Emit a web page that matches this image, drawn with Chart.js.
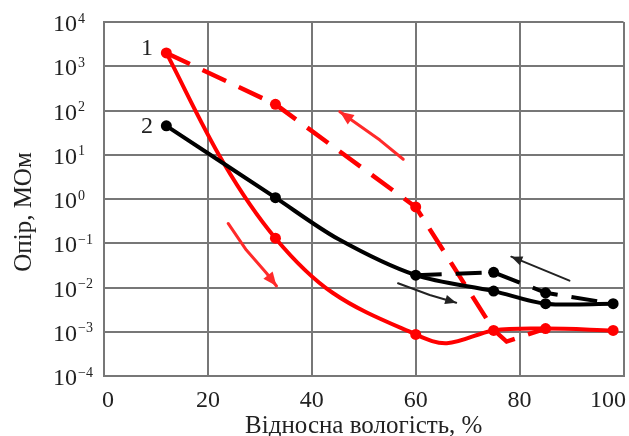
<!DOCTYPE html>
<html>
<head>
<meta charset="utf-8">
<script src="https://cdn.jsdelivr.net/npm/chart.js@4"></script>
<style>
  body { margin: 0; background: #fff; }
  canvas { display: block; }
</style>
</head>
<body>
<canvas id="chart" width="629" height="436"></canvas>
<script>
// curve 1 (red), wetting branch - solid
const redWetX = [12, 23, 33, 44, 60, 66, 75, 85, 98];
const redWetY = [2000, 6.6, 0.13, 0.0076, 0.00087, 0.00055, 0.00107, 0.00118, 0.00107];
const redWetMarkX = [12, 33, 60, 75, 85, 98];
const redWetMarkY = [2000, 0.13, 0.00087, 0.00107, 0.00118, 0.00107];
// curve 1 (red), drying branch - dashed
const redDryX = [12, 33, 60, 75, 77.5, 85];
const redDryY = [2000, 138, 0.66, 0.0011, 0.0006, 0.00118];
const redDryMarkX = [33, 60];
const redDryMarkY = [138, 0.66];

// curve 2 (black), wetting branch - solid
const blackWetX = [12, 33, 45, 60, 75, 85, 98];
const blackWetY = [45, 1.07, 0.126, 0.019, 0.0083, 0.0043, 0.0043];
const blackWetMarkX = [12, 33, 60, 75, 85, 98];
const blackWetMarkY = [45, 1.07, 0.019, 0.0083, 0.0043, 0.0043];
// curve 2 (black), drying branch - dashed
const blackDryX = [60, 75, 85, 98];
const blackDryY = [0.019, 0.022, 0.0076, 0.0043];
const blackDryMarkX = [75, 85];
const blackDryMarkY = [0.022, 0.0076];

// direction arrows (data coordinates)
const arrowRedDownX = [23.9, 27.4, 31.3, 33.2];
const arrowRedDownY = [0.28, 0.07, 0.021, 0.0108];
const arrowRedUpX = [57.6, 53.1, 45.4];
const arrowRedUpY = [7.9, 21.5, 94];
const arrowBlackDownX = [56.6, 62.7, 67.8];
const arrowBlackDownY = [0.01245, 0.00676, 0.00454];
const arrowBlackUpX = [89.6, 78.4];
const arrowBlackUpY = [0.01426, 0.0497];

// curve numbers
const curveLabels = ['1', '2'];
const curveLabelX = [8.3, 8.3];
const curveLabelY = [2450, 42];

const xTicks = [0, 20, 40, 60, 80, 100];
const yExponents = [-4, -3, -2, -1, 0, 1, 2, 3, 4];
const xTitle = 'Відносна вологість, %';
const yTitle = 'Опір, МОм';

const serif = '"Liberation Serif", "DejaVu Serif", serif';
const gridColor = '#777';
const textColor = '#222';

function pts(xs, ys) {
  return xs.map((x, i) => ({ x: x, y: ys[i] }));
}

function drawArrow(chart, xs, ys, color, width, head) {
  const sx = chart.scales.x, sy = chart.scales.y;
  const p = xs.map((x, i) => [sx.getPixelForValue(x), sy.getPixelForValue(ys[i])]);
  const c = chart.ctx;
  c.save();
  c.strokeStyle = color;
  c.fillStyle = color;
  c.lineWidth = width;
  c.lineCap = 'round';
  c.lineJoin = 'round';
  c.beginPath();
  c.moveTo(p[0][0], p[0][1]);
  for (let i = 1; i < p.length; i++) c.lineTo(p[i][0], p[i][1]);
  c.stroke();
  const a = p[p.length - 2], b = p[p.length - 1];
  const ang = Math.atan2(b[1] - a[1], b[0] - a[0]);
  c.beginPath();
  c.moveTo(b[0], b[1]);
  c.lineTo(b[0] - head * Math.cos(ang - 0.4), b[1] - head * Math.sin(ang - 0.4));
  c.lineTo(b[0] - head * Math.cos(ang + 0.4), b[1] - head * Math.sin(ang + 0.4));
  c.closePath();
  c.fill();
  c.restore();
}

const textPlugin = {
  id: 'texts',
  afterDraw(chart) {
    const c = chart.ctx;
    const sx = chart.scales.x, sy = chart.scales.y;
    const area = chart.chartArea;
    c.save();
    c.fillStyle = textColor;

    // y tick labels 10^n
    yExponents.forEach(e => {
      const py = sy.getPixelForValue(Math.pow(10, e));
      c.font = '24px ' + serif;
      c.textAlign = 'right';
      c.textBaseline = 'alphabetic';
      c.fillText('10', 77, py + 9);
      c.font = '14px ' + serif;
      c.textAlign = 'left';
      c.fillText(String(e).replace('-', '\u2212'), 78, py + 0.5);
    });

    // x tick labels
    c.font = '24px ' + serif;
    c.textBaseline = 'alphabetic';
    c.textAlign = 'center';
    xTicks.forEach(v => {
      const w = c.measureText(String(v)).width;
      let px = sx.getPixelForValue(v);
      px = Math.min(px, chart.width - 3 - w / 2);
      px = Math.max(px, area.left + w / 2 - 2);
      c.fillText(String(v), px, 407);
    });

    // axis titles
    c.font = '25px ' + serif;
    c.fillText(xTitle, (area.left + area.right) / 2, 433);
    c.save();
    c.translate(31, 212);
    c.rotate(-Math.PI / 2);
    c.fillText(yTitle, 0, 0);
    c.restore();

    // curve numbers
    c.font = '24px ' + serif;
    c.textBaseline = 'middle';
    curveLabels.forEach((t, i) => {
      c.fillText(t, sx.getPixelForValue(curveLabelX[i]), sy.getPixelForValue(curveLabelY[i]));
    });
    c.restore();

    drawArrow(chart, arrowRedDownX, arrowRedDownY, '#ff2a2a', 3, 15);
    drawArrow(chart, arrowRedUpX, arrowRedUpY, '#ff2a2a', 3, 15);
    drawArrow(chart, arrowBlackDownX, arrowBlackDownY, '#222', 2, 12);
    drawArrow(chart, arrowBlackUpX, arrowBlackUpY, '#222', 2, 12);
  }
};

new Chart(document.getElementById('chart'), {
  type: 'line',
  data: {
    datasets: [
      { data: pts(blackWetMarkX, blackWetMarkY), showLine: false, pointRadius: 5.5, pointBackgroundColor: '#000', pointBorderWidth: 0 },
      { data: pts(blackDryMarkX, blackDryMarkY), showLine: false, pointRadius: 5.5, pointBackgroundColor: '#000', pointBorderWidth: 0 },
      { data: pts(blackWetX, blackWetY), borderColor: '#000', borderWidth: 4, pointRadius: 0, tension: 0.3 },
      { data: pts(blackDryX, blackDryY), borderColor: '#000', borderWidth: 4, pointRadius: 0, tension: 0, borderDash: [26, 14] },
      { data: pts(redWetMarkX, redWetMarkY), showLine: false, pointRadius: 5.5, pointBackgroundColor: '#ff0000', pointBorderWidth: 0 },
      { data: pts(redDryMarkX, redDryMarkY), showLine: false, pointRadius: 5.5, pointBackgroundColor: '#ff0000', pointBorderWidth: 0 },
      { data: pts(redWetX, redWetY), borderColor: '#ff0000', borderWidth: 4, pointRadius: 0, tension: 0.35 },
      { data: pts(redDryX, redDryY), borderColor: '#ff0000', borderWidth: 4.5, pointRadius: 0, tension: 0, borderDash: [26, 14] }
    ]
  },
  options: {
    responsive: false,
    animation: false,
    devicePixelRatio: 1,
    layout: { padding: { top: 22, right: 5, left: 0, bottom: 0 } },
    plugins: { legend: { display: false }, tooltip: { enabled: false } },
    scales: {
      x: {
        type: 'linear', min: 0, max: 100,
        ticks: { stepSize: 20, display: false },
        grid: { color: gridColor, lineWidth: 2, drawTicks: false },
        border: { color: gridColor, width: 2 },
        afterFit(scale) { scale.height = 60; }
      },
      y: {
        type: 'logarithmic', min: 1e-4, max: 1e4,
        ticks: { display: false },
        afterBuildTicks(scale) { scale.ticks = yExponents.map(e => ({ value: Math.pow(10, e) })); },
        grid: { color: gridColor, lineWidth: 2, drawTicks: false },
        border: { color: gridColor, width: 2 },
        afterFit(scale) { scale.width = 104; }
      }
    }
  },
  plugins: [textPlugin]
});
</script>
</body>
</html>
